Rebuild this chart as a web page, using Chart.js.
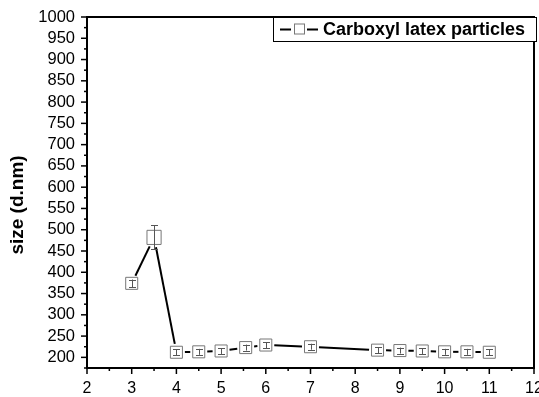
<!DOCTYPE html>
<html>
<head>
<meta charset="utf-8">
<script src="https://cdn.jsdelivr.net/npm/chart.js@4/dist/chart.umd.min.js"></script>
<style>
  html, body { margin: 0; padding: 0; background: #fff; }
  #wrap { width: 539px; height: 397px; }
</style>
</head>
<body>
<div id="wrap"><canvas id="chart" width="539" height="397"></canvas></div>
<script>
// pH (x) vs particle size
const phValues = [3, 3.5, 4, 4.5, 5, 5.55, 6, 7, 8.5, 9, 9.5, 10, 10.5, 11];
const sizes = [374, 482, 212, 213, 215, 223, 229, 225, 217, 216, 215, 213, 213, 212];
const sizeErrors = [9, 28, 7, 7, 7, 7, 7, 7, 7, 7, 7, 7, 7, 7];
const seriesLabel = 'Carboxyl latex particles';
const yTitle = 'size (d.nm)';

const FONT = '"Liberation Sans", Arial, sans-serif';

// lines between markers, leaving a gap round each box
const linePlugin = {
  id: 'gapLines',
  beforeDatasetsDraw(chart) {
    const ctx = chart.ctx;
    const pts = chart.getDatasetMeta(0).data;
    ctx.save();
    ctx.strokeStyle = '#000';
    ctx.lineWidth = 2;
    for (let i = 0; i < pts.length - 1; i++) {
      const a = pts[i], b = pts[i + 1];
      const dx = b.x - a.x, dy = b.y - a.y;
      const len = Math.sqrt(dx * dx + dy * dy);
      const gapA = (i === 1 ? 10 : 8.5), gapB = (i + 1 === 1 ? 10 : 8.5);
      if (len <= gapA + gapB) continue;
      const ux = dx / len, uy = dy / len;
      ctx.beginPath();
      ctx.moveTo(a.x + ux * gapA, a.y + uy * gapA);
      ctx.lineTo(b.x - ux * gapB, b.y - uy * gapB);
      ctx.stroke();
    }
    ctx.restore();
  },
  afterDatasetsDraw(chart) {
    // error bars
    const ctx = chart.ctx;
    const y = chart.scales.y;
    const pts = chart.getDatasetMeta(0).data;
    ctx.save();
    ctx.strokeStyle = '#555';
    ctx.lineWidth = 1;
    pts.forEach((p, i) => {
      const top = y.getPixelForValue(sizes[i] + sizeErrors[i]);
      const bot = y.getPixelForValue(sizes[i] - sizeErrors[i]);
      const x = Math.round(p.x) + 0.5;
      ctx.beginPath();
      ctx.moveTo(x, top); ctx.lineTo(x, bot);
      ctx.moveTo(x - 3.5, Math.round(top) + 0.5); ctx.lineTo(x + 3.5, Math.round(top) + 0.5);
      ctx.moveTo(x - 3.5, Math.round(bot) + 0.5); ctx.lineTo(x + 3.5, Math.round(bot) + 0.5);
      ctx.stroke();
    });
    ctx.restore();
  }
};

// frame, ticks, title and legend box
const framePlugin = {
  id: 'frame',
  afterDraw(chart) {
    const ctx = chart.ctx;
    const a = chart.chartArea;
    const xs = chart.scales.x, ys = chart.scales.y;
    ctx.save();
    ctx.strokeStyle = '#000';
    ctx.lineWidth = 2;
    ctx.strokeRect(a.left, a.top, a.right - a.left, a.bottom - a.top);

    // y ticks
    ctx.lineWidth = 1.5;
    for (let v = 175; v <= 1000; v += 25) {
      const py = ys.getPixelForValue(v);
      const len = v % 50 === 0 ? 6 : 3;
      ctx.beginPath();
      ctx.moveTo(a.left - len, py); ctx.lineTo(a.left, py);
      ctx.stroke();
    }
    // x ticks
    for (let v = 2; v <= 12; v += 0.5) {
      const px = xs.getPixelForValue(v);
      const len = v % 1 === 0 ? 6 : 3;
      ctx.beginPath();
      ctx.moveTo(px, a.bottom); ctx.lineTo(px, a.bottom + len);
      ctx.stroke();
    }

    // y title
    ctx.fillStyle = '#000';
    ctx.font = 'bold 19px ' + FONT;
    ctx.textAlign = 'center';
    ctx.textBaseline = 'middle';
    ctx.translate(18, 205);
    ctx.rotate(-Math.PI / 2);
    ctx.fillText(yTitle, 0, 0);
    ctx.setTransform(1, 0, 0, 1, 0, 0);

    // legend
    const lx = 273, ly = 17, lw = 264, lh = 25;
    ctx.fillStyle = '#fff';
    ctx.fillRect(lx, ly, lw, lh);
    ctx.strokeStyle = '#000';
    ctx.lineWidth = 1;
    ctx.strokeRect(lx + 0.5, ly + 0.5, lw - 1, lh - 1);
    const cy = ly + lh / 2;
    ctx.lineWidth = 2;
    ctx.beginPath();
    ctx.moveTo(280, cy); ctx.lineTo(291, cy);
    ctx.moveTo(307, cy); ctx.lineTo(318, cy);
    ctx.stroke();
    ctx.strokeStyle = '#777';
    ctx.lineWidth = 1;
    ctx.strokeRect(294.5, cy - 5.5, 10, 10);
    ctx.fillStyle = '#000';
    ctx.font = 'bold 18px ' + FONT;
    ctx.textAlign = 'left';
    ctx.textBaseline = 'middle';
    ctx.fillText(seriesLabel, 323, cy + 1);
    ctx.restore();
  }
};

const noPadding = () => ({ left: 0, top: 0, right: 0, bottom: 0 });

new Chart(document.getElementById('chart').getContext('2d'), {
  type: 'scatter',
  data: {
    datasets: [{
      label: seriesLabel,
      data: phValues.map((x, i) => ({ x: x, y: sizes[i] })),
      showLine: false,
      pointStyle: 'rect',
      pointRadius: phValues.map(x => x === 3.5 ? 10 : 8.5),
      pointBackgroundColor: '#fff',
      pointBorderColor: '#777',
      pointBorderWidth: 1
    }]
  },
  options: {
    responsive: false,
    animation: false,
    layout: { autoPadding: false, padding: { top: 17, right: 5, left: 0, bottom: 0 } },
    plugins: {
      legend: { display: false },
      tooltip: { enabled: false }
    },
    scales: {
      x: {
        type: 'linear',
        min: 2,
        max: 12,
        ticks: {
          stepSize: 1,
          padding: 11,
          color: '#000',
          font: { family: FONT, size: 16 }
        },
        grid: { display: false, drawTicks: false },
        border: { display: false },
        afterFit(scale) {
          scale.height = 29;
          scale.getPadding = noPadding;
        }
      },
      y: {
        min: 175,
        max: 1000,
        ticks: {
          stepSize: 25,
          autoSkip: false,
          padding: 12,
          color: '#000',
          font: { family: FONT, size: 16.5 },
          callback: v => (v % 50 === 0 ? v : '')
        },
        grid: { display: false, drawTicks: false },
        border: { display: false },
        afterFit(scale) {
          scale.width = 87;
          scale.getPadding = noPadding;
        }
      }
    }
  },
  plugins: [linePlugin, framePlugin]
});
</script>
</body>
</html>
